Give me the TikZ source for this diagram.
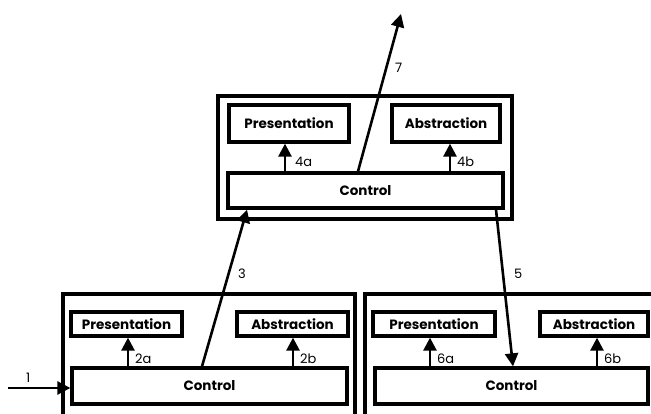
\documentclass[tikz,border=0pt]{standalone}
\usepackage{fontspec}
\setmainfont{Poppins}
\usetikzlibrary{arrows.meta}
\begin{document}
\begin{tikzpicture}[x=1pt,y=-1pt,
  frame/.style={draw,line width=3.3pt,inner sep=0pt},
  part/.style={draw,fill=white,line width=3.3pt,inner sep=0pt,font=\bfseries\fontsize{13.5}{15}\selectfont},
  arr/.style={line width=2.6pt,-{Triangle[length=13pt,width=13pt]}},
  lab/.style={font=\fontsize{13}{15}\selectfont,inner sep=0pt,anchor=west}]
\useasboundingbox (0,0) rectangle (651,413);

% top agent
\node[frame,minimum width=294,minimum height=123] (tf) at (365,157.5) {};
\node[part,minimum width=120,minimum height=37] (tp) at (289,123.5) {Presentation};
\node[part,minimum width=108,minimum height=37] (ta) at (446,123.5) {Abstraction};
\node[part,minimum width=275,minimum height=35] (tc) at (365.5,190.5) {Control};

% bottom-left agent
\node[frame,minimum width=292,minimum height=130] (lf) at (209,359) {};
\node[part,minimum width=111,minimum height=24] (lp) at (126.5,324) {Presentation};
\node[part,minimum width=111,minimum height=24] (la) at (292.5,324) {Abstraction};
\node[part,minimum width=275,minimum height=36] (lc) at (209.5,386) {Control};

% bottom-right agent
\node[frame,minimum width=300,minimum height=130] (rf) at (515,359) {};
\node[part,minimum width=122,minimum height=24] (rp) at (434,324) {Presentation};
\node[part,minimum width=108,minimum height=24] (ra) at (594,324) {Abstraction};
\node[part,minimum width=273,minimum height=36] (rc) at (511.5,386) {Control};

% free ends
\coordinate (in1) at (8,388);
\coordinate (out7) at (401,14);

% arrows inside the agents
\draw[arr] (tc.north -| 285,0) -- (tp.south -| 285,0);
\draw[arr] (tc.north -| 450,0) -- (ta.south -| 450,0);
\draw[arr] (lc.north -| 128,0) -- (lp.south -| 128,0);
\draw[arr] (lc.north -| 293,0) -- (la.south -| 293,0);
\draw[arr] (rc.north -| 430,0) -- (rp.south -| 430,0);
\draw[arr] (rc.north -| 597,0) -- (ra.south -| 597,0);

% arrows between agents
\draw[arr] (in1) -- (lc.west |- in1);
\draw[arr] (lc.north -| 202,0) -- (tc.south -| 247,0);
\draw[arr] (tc.north -| 358,0) -- (out7);
\draw[arr] (tc.south -| 496,0) -- (rc.north -| 513,0);

% labels
\node[lab] (l4a) at (295,162) {4a};
\node[lab] (l4b) at (457,162) {4b};
\node[lab] (l2a) at (135,359) {2a};
\node[lab] (l2b) at (300,359) {2b};
\node[lab] (l6a) at (437,359) {6a};
\node[lab] (l6b) at (604,359) {6b};
\node[lab] (l1) at (26,378) {1};
\node[lab] (l3) at (238,274) {3};
\node[lab] (l5) at (514,274) {5};
\node[lab] (l7) at (395,68) {7};
\end{tikzpicture}
\end{document}
